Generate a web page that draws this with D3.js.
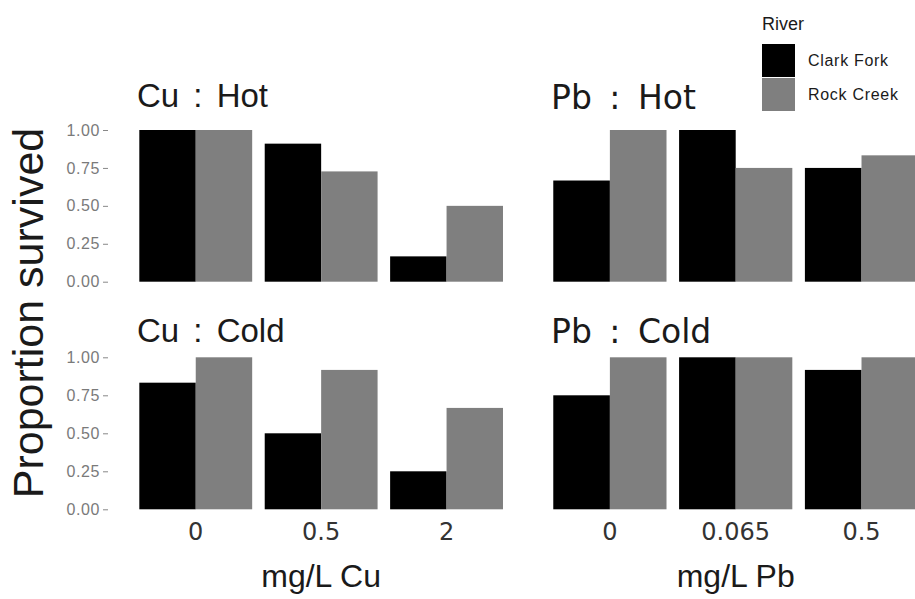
<!DOCTYPE html>
<html>
<head>
<meta charset="utf-8">
<script src="https://cdn.jsdelivr.net/npm/d3@7"></script>
<style>
    body { margin: 0; background: #fff; }
    svg { display: block; }
</style>
</head>
<body>
<svg id="chart" width="915" height="599"></svg>
<script>
// survival proportions
var rivers = ["Clark Fork", "Rock Creek"];
var concCu = ["0", "0.5", "2"];
var concPb = ["0", "0.065", "0.5"];
var yTicks = [0, 0.25, 0.5, 0.75, 1];

var cuHotClark = [1, 0.91, 0.167];
var cuHotRock = [1, 0.727, 0.5];
var cuColdClark = [0.833, 0.5, 0.25];
var cuColdRock = [1, 0.917, 0.667];
var pbHotClark = [0.667, 1, 0.75];
var pbHotRock = [1, 0.75, 0.833];
var pbColdClark = [0.75, 1, 0.917];
var pbColdRock = [1, 1, 1];

var svg = d3.select("#chart");
var color = d3.scaleOrdinal().domain(rivers).range(["#000000", "#7f7f7f"]);

var xCu = d3.scaleBand().domain(concCu).range([120.5, 521.8]).paddingInner(0.1).paddingOuter(0.15);
var xPb = d3.scaleBand().domain(concPb).range([534.4, 937]).paddingInner(0.1).paddingOuter(0.15);
var yTop = d3.scaleLinear().domain([0, 1]).range([281.7, 130]);
var yBot = d3.scaleLinear().domain([0, 1]).range([509.3, 357.3]);

function drawPanel(x, y, clark, rock, title, titleFont, wordGap, titleX, titleY) {
    var inner = d3.scaleBand().domain(rivers).range([0, x.bandwidth()]).padding(0);
    var rows = x.domain().map(function (c, i) {
        return {conc: c, vals: [clark[i], rock[i]]};
    });
    var g = svg.append("g");
    g.selectAll("g")
        .data(rows)
        .enter().append("g")
        .attr("transform", function (d) { return "translate(" + x(d.conc) + ",0)"; })
        .selectAll("rect")
        .data(function (d) {
            return rivers.map(function (r, j) { return {river: r, v: d.vals[j]}; });
        })
        .enter().append("rect")
        .attr("x", function (d) { return inner(d.river); })
        .attr("y", function (d) { return y(d.v); })
        .attr("width", inner.bandwidth())
        .attr("height", function (d) { return y(0) - y(d.v); })
        .attr("fill", function (d) { return color(d.river); });

    svg.append("text")
        .attr("x", titleX)
        .attr("y", titleY)
        .attr("font-family", titleFont)
        .attr("font-size", 33)
        .attr("word-spacing", wordGap)
        .attr("fill", "#1a1a1a")
        .text(title);
}

drawPanel(xCu, yTop, cuHotClark, cuHotRock, "Cu : Hot", "Liberation Sans, Arial", 5, 137, 107);
drawPanel(xPb, yTop, pbHotClark, pbHotRock, "Pb : Hot", "DejaVu Sans", 7, 551, 108.5);
drawPanel(xCu, yBot, cuColdClark, cuColdRock, "Cu : Cold", "Liberation Sans, Arial", 5, 137, 341.5);
drawPanel(xPb, yBot, pbColdClark, pbColdRock, "Pb : Cold", "DejaVu Sans", 7, 551, 343);

// y axes, left column only
[yTop, yBot].forEach(function (y) {
    var ax = svg.append("g")
        .attr("transform", "translate(108,0)")
        .call(d3.axisLeft(y).tickValues(yTicks).tickSize(5).tickPadding(3)
            .tickFormat(d3.format(".2f")));
    ax.select(".domain").remove();
    ax.selectAll("line").attr("stroke", "#888");
    ax.selectAll("text")
        .attr("font-family", "Liberation Sans, Arial")
        .attr("font-size", 16)
        .attr("letter-spacing", 0.6)
        .attr("fill", "#7a7a7a");
});

// x axes, bottom row only
[xCu, xPb].forEach(function (x) {
    var ax = svg.append("g")
        .attr("transform", "translate(0,509.3)")
        .call(d3.axisBottom(x).tickSize(0).tickPadding(14));
    ax.select(".domain").remove();
    ax.selectAll("text")
        .attr("font-family", "DejaVu Sans")
        .attr("font-size", 24)
        .attr("fill", "#333");
});

svg.append("text")
    .attr("x", (xCu.range()[0] + xCu.range()[1]) / 2)
    .attr("y", 586.7)
    .attr("text-anchor", "middle")
    .attr("font-family", "Liberation Sans, Arial")
    .attr("font-size", 32)
    .attr("fill", "#1a1a1a")
    .text("mg/L Cu");

svg.append("text")
    .attr("x", (xPb.range()[0] + xPb.range()[1]) / 2)
    .attr("y", 586.7)
    .attr("text-anchor", "middle")
    .attr("font-family", "Liberation Sans, Arial")
    .attr("font-size", 32)
    .attr("fill", "#1a1a1a")
    .text("mg/L Pb");

svg.append("text")
    .attr("transform", "translate(43,313) rotate(-90)")
    .attr("text-anchor", "middle")
    .attr("font-family", "Liberation Sans, Arial")
    .attr("font-size", 43)
    .attr("fill", "#1a1a1a")
    .text("Proportion survived");

// legend
var legend = svg.append("g").attr("transform", "translate(762,0)");
legend.append("text")
    .attr("x", 0)
    .attr("y", 30)
    .attr("font-family", "Liberation Sans, Arial")
    .attr("font-size", 18)
    .attr("fill", "#1a1a1a")
    .text("River");
var items = legend.selectAll("g.item")
    .data(rivers)
    .enter().append("g")
    .attr("class", "item")
    .attr("transform", function (d, i) { return "translate(0," + (44 + i * 34) + ")"; });
items.append("rect")
    .attr("width", 33)
    .attr("height", 33)
    .attr("fill", function (d) { return color(d); });
items.append("text")
    .attr("x", 46)
    .attr("y", 22)
    .attr("font-family", "Liberation Sans, Arial")
    .attr("font-size", 16)
    .attr("letter-spacing", 0.7)
    .attr("fill", "#1a1a1a")
    .text(function (d) { return d; });
</script>
</body>
</html>
